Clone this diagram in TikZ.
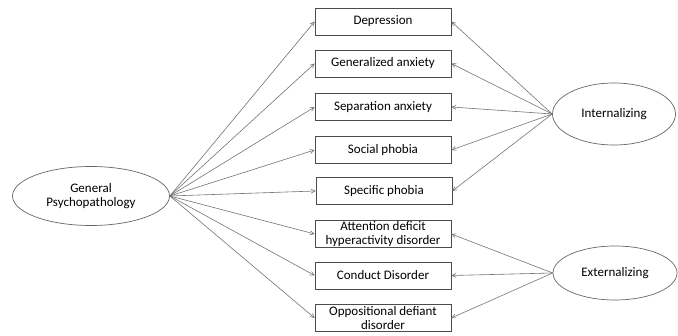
\documentclass[tikz,border=0pt]{standalone}
\usepackage{fontspec}
\setmainfont{Carlito}
\usetikzlibrary{arrows.meta,shapes.geometric}

\begin{document}
\begin{tikzpicture}[x=1pt,y=-1pt,
  disorder/.style={draw=black!70,line width=0.7pt,minimum width=136pt,minimum height=27pt,inner sep=0.5pt,align=center,font=\fontsize{13}{14}\selectfont},
  factor/.style={ellipse,draw=black!60,line width=0.7pt,inner sep=0pt,align=center,font=\fontsize{13}{14}\selectfont},
  load/.style={draw=black!55,line width=0.6pt,-{Straight Barb[length=4pt,width=4pt]}}]
     \useasboundingbox (0,0) rectangle (678,336);
     \node[factor,minimum width=157pt,minimum height=59pt] (gen) at (91,196) {General\\Psychopathology};
     \node[factor,minimum width=123pt,minimum height=62pt] (int) at (614,114) {Internalizing};
     \node[factor,minimum width=124pt,minimum height=54pt] (ext) at (615,273) {Externalizing};
     \node[disorder] (dep) at (383,21.5) {Depression};
     \node[disorder] (gad) at (383,63.5) {Generalized anxiety};
     \node[disorder] (sep) at (383,107) {Separation anxiety};
     \node[disorder] (soc) at (383,150) {Social phobia};
     \node[disorder] (spe) at (384,191) {Specific phobia};
     \node[disorder] (adhd) at (383,234) {Attention deficit\\hyperactivity disorder};
     \node[disorder] (cd) at (383,275.5) {Conduct Disorder};
     \node[disorder] (odd) at (383,318) {Oppositional defiant\\disorder};
     \draw[load] (gen.east) to (dep.west);
     \draw[load] (gen.east) to (gad.west);
     \draw[load] (gen.east) to (sep.west);
     \draw[load] (gen.east) to (soc.west);
     \draw[load] (gen.east) to (spe.west);
     \draw[load] (gen.east) to (adhd.west);
     \draw[load] (gen.east) to (cd.west);
     \draw[load] (gen.east) to (odd.west);
     \draw[load] (int.west) to (dep.east);
     \draw[load] (int.west) to (gad.east);
     \draw[load] (int.west) to (sep.east);
     \draw[load] (int.west) to (soc.east);
     \draw[load] (int.west) to (spe.east);
     \draw[load] (ext.west) to (adhd.east);
     \draw[load] (ext.west) to (cd.east);
     \draw[load] (ext.west) to (odd.east);
\end{tikzpicture}
\end{document}
